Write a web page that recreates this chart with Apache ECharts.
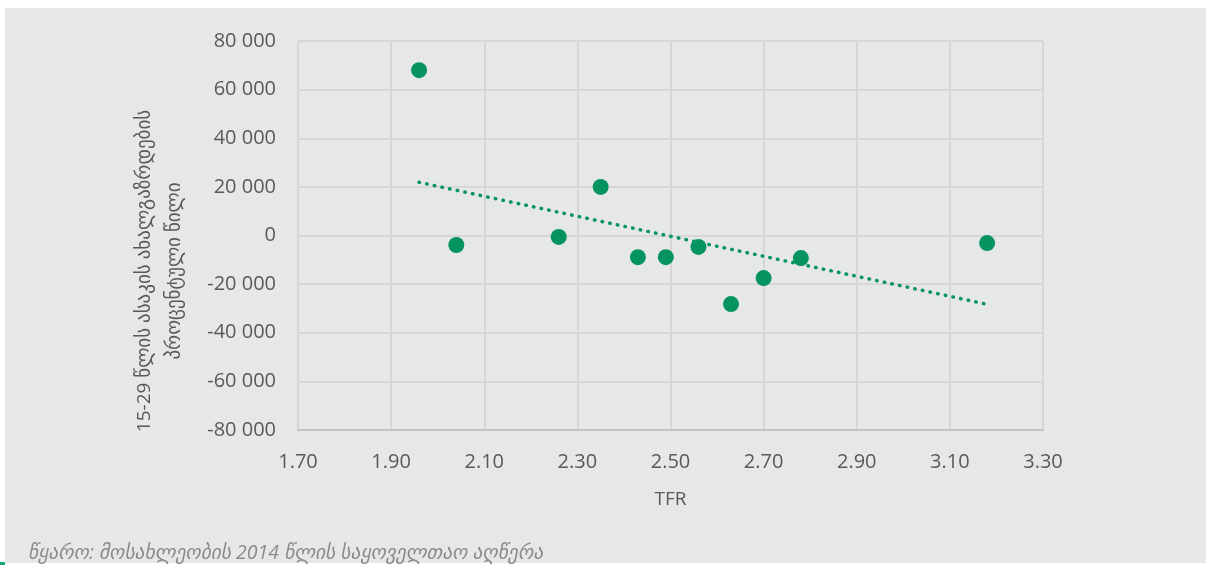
<!DOCTYPE html>
<html>
<head>
<meta charset="utf-8">
<script src="https://cdn.jsdelivr.net/npm/echarts@6/dist/echarts.min.js"></script>
<style>
html,body{margin:0;padding:0;background:#ffffff;}
#chart{width:1206px;height:565px;}
</style>
</head>
<body>
<div id="chart"></div>
<script>
// Data
const tfr = [1.96, 2.04, 2.26, 2.35, 2.43, 2.49, 2.56, 2.63, 2.70, 2.78, 3.18];
const youthChange = [68000, -3900, -600, 20000, -8900, -8900, -4700, -28200, -17500, -9300, -3100];
const trendX = [1.96, 3.18];
const trendY = [21900, -28300];
const xAxisName = 'TFR';
const yAxisName = '15-29 წლის ასაკის ახალგაზრდების\nპროცენტული წილი';
const sourceNote = 'წყარო: მოსახლეობის 2014 წლის საყოველთაო აღწერა';

const FONT = '"Open Sans", "DejaVu Sans", sans-serif';
const GREEN = '#05935f';

const points = tfr.map((x, i) => [x, youthChange[i]]);
const trend = trendX.map((x, i) => [x, trendY[i]]);

function fmtThousands(v) {
  const s = String(Math.abs(v)).replace(/\B(?=(\d{3})+(?!\d))/g, ' ');
  return (v < 0 ? '-' : '') + s;
}

const chart = echarts.init(document.getElementById('chart'), null, {renderer: 'canvas'});
chart.setOption({
  animation: false,
  backgroundColor: '#ffffff',
  graphic: [
    {type: 'rect', left: 5, top: 8, shape: {width: 1201, height: 555}, style: {fill: '#e6e7e9'}, z: -10},
    {type: 'rect', left: 0, top: 562, shape: {width: 5, height: 3}, style: {fill: '#17a874'}, z: -10},
    {type: 'text', left: 28, top: 543, style: {text: sourceNote, font: 'italic 19.5px ' + FONT, fill: '#8a8a8a'}},
    {type: 'text', x: 160, y: 271, rotation: Math.PI / 2,
      style: {text: yAxisName, font: '19px ' + FONT, fill: '#595959', align: 'center',
        verticalAlign: 'middle', lineHeight: 30}}
  ],
  grid: {left: 298, right: 163, top: 41, bottom: 135, containLabel: false},
  xAxis: {
    type: 'value',
    min: 1.7, max: 3.3, interval: 0.2,
    name: xAxisName, nameLocation: 'middle', nameGap: 60,
    nameTextStyle: {fontFamily: FONT, fontSize: 19, color: '#595959'},
    axisLine: {show: true, onZero: false, lineStyle: {color: '#c4c4c4', width: 2}},
    axisTick: {show: false},
    axisLabel: {fontFamily: FONT, fontSize: 20, color: '#595959', margin: 22,
      formatter: v => v.toFixed(2)},
    splitLine: {show: true, lineStyle: {color: '#d6d6d8', width: 2}}
  },
  yAxis: {
    type: 'value',
    min: -80000, max: 80000, interval: 20000,
    axisLine: {show: false},
    axisTick: {show: false},
    axisLabel: {fontFamily: FONT, fontSize: 20, color: '#595959', margin: 22, formatter: fmtThousands},
    splitLine: {show: true, lineStyle: {color: '#d6d6d8', width: 2}}
  },
  series: [
    {
      type: 'line',
      data: trend,
      symbol: 'none',
      lineStyle: {color: GREEN, width: 3.5, type: [0.5, 7.3], cap: 'round'},
      z: 2
    },
    {
      type: 'scatter',
      data: points,
      symbol: 'circle',
      symbolSize: 16,
      itemStyle: {color: GREEN, opacity: 1},
      z: 3
    }
  ]
});
</script>
</body>
</html>
